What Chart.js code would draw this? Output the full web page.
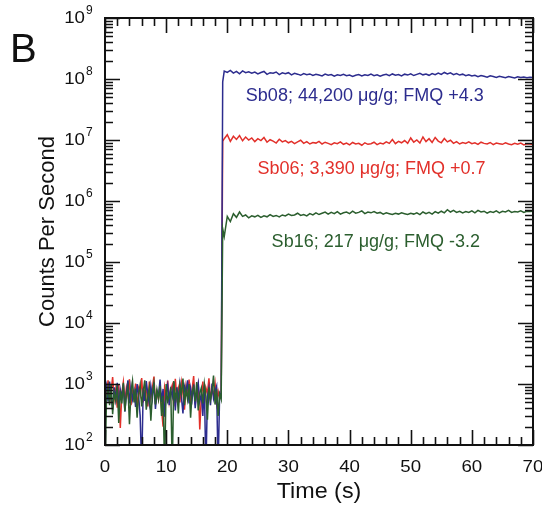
<!DOCTYPE html>
<html>
<head>
<meta charset="utf-8">
<script src="https://cdn.jsdelivr.net/npm/chart.js@4.4.0/dist/chart.umd.min.js"></script>
<style>
  body { margin: 0; background: #fff; }
  canvas { display: block; }
</style>
</head>
<body>
<canvas id="cpsChart" width="542" height="508"></canvas>
<script>
// Tiempos (s): fondo cada 0.25 s, señal cada 0.5 s
const backgroundTimes = [0,0.25,0.5,0.75,1,1.25,1.5,1.75,2,2.25,2.5,2.75,3,3.25,3.5,3.75,4,4.25,4.5,4.75,
  5,5.25,5.5,5.75,6,6.25,6.5,6.75,7,7.25,7.5,7.75,8,8.25,8.5,8.75,9,9.25,9.5,9.75,
  10,10.25,10.5,10.75,11,11.25,11.5,11.75,12,12.25,12.5,12.75,13,13.25,13.5,13.75,14,14.25,14.5,14.75,
  15,15.25,15.5,15.75,16,16.25,16.5,16.75,17,17.25,17.5,17.75,18,18.25,18.5,18.75,19];
const signalTimes = [19.25,19.5,20,20.5,21,21.5,22,22.5,23,23.5,24,24.5,25,25.5,26,26.5,27,27.5,28,28.5,29,29.5,
  30,30.5,31,31.5,32,32.5,33,33.5,34,34.5,35,35.5,36,36.5,37,37.5,38,38.5,39,39.5,
  40,40.5,41,41.5,42,42.5,43,43.5,44,44.5,45,45.5,46,46.5,47,47.5,48,48.5,49,49.5,
  50,50.5,51,51.5,52,52.5,53,53.5,54,54.5,55,55.5,56,56.5,57,57.5,58,58.5,59,59.5,
  60,60.5,61,61.5,62,62.5,63,63.5,64,64.5,65,65.5,66,66.5,67,67.5,68,68.5,69,69.5,70];

// Sb08 (azul)
const sb08Background = [700,950,520,1100,640,380,880,560,1050,430,
  820,610,990,350,720,1150,480,900,560,760,
  420,1000,640,300,40,850,530,1120,690,470,
  920,580,1060,390,760,640,1180,510,830,290,
  700,960,450,800,620,1080,370,880,540,1010,
  600,330,910,720,1150,480,850,560,980,400,
  760,1040,520,680,300,940,40,610,870,450,
  1020,580,760,920,40,700,620];
const sb08Signal = [0.9e8,
  1.35e8,1.28e8,1.38e8,1.25e8,1.33e8,1.22e8,1.36e8,1.27e8,1.31e8,1.24e8,
  1.30e8,1.21e8,1.28e8,1.33e8,1.19e8,1.27e8,1.24e8,1.30e8,1.18e8,1.26e8,
  1.22e8,1.27e8,1.17e8,1.24e8,1.20e8,1.15e8,1.23e8,1.18e8,1.21e8,1.14e8,
  1.19e8,1.16e8,1.12e8,1.20e8,1.15e8,1.18e8,1.11e8,1.17e8,1.14e8,1.19e8,
  1.13e8,1.16e8,1.10e8,1.15e8,1.18e8,1.12e8,1.17e8,1.14e8,1.20e8,1.13e8,
  1.17e8,1.11e8,1.16e8,1.19e8,1.13e8,1.21e8,1.15e8,1.18e8,1.12e8,1.20e8,
  1.16e8,1.22e8,1.14e8,1.19e8,1.24e8,1.17e8,1.21e8,1.15e8,1.23e8,1.18e8,
  1.25e8,1.19e8,1.28e8,1.21e8,1.26e8,1.18e8,1.23e8,1.16e8,1.20e8,1.13e8,
  1.17e8,1.12e8,1.15e8,1.09e8,1.14e8,1.11e8,1.07e8,1.13e8,1.10e8,1.06e8,
  1.11e8,1.08e8,1.05e8,1.10e8,1.07e8,1.04e8,1.09e8,1.06e8,1.08e8,1.05e8,
  1.07e8,1.06e8];

// Sb06 (rojo)
const sb06Background = [900,620,1150,480,760,1300,560,820,410,980,
  190,700,1080,530,870,640,1200,450,760,590,
  1020,380,840,660,1250,500,780,940,430,1100,
  600,860,1320,470,720,560,1010,390,200,880,
  650,1140,520,790,960,430,1220,600,840,500,
  1060,700,380,920,640,1180,540,820,1350,460,
  760,990,180,620,1100,480,870,700,1240,560,
  820,640,1020,490,760,580,700];
const sb06Signal = [0.95e7,
  1.05e7,1.22e7,0.95e7,1.15e7,1.02e7,1.18e7,0.97e7,1.12e7,1.00e7,1.08e7,
  0.94e7,1.05e7,0.98e7,1.10e7,0.92e7,1.01e7,0.96e7,0.89e7,1.03e7,0.93e7,
  0.98e7,0.90e7,0.95e7,0.87e7,0.93e7,0.99e7,0.88e7,0.94e7,0.86e7,0.91e7,
  0.89e7,0.95e7,0.86e7,0.92e7,0.88e7,0.84e7,0.90e7,0.87e7,0.93e7,0.85e7,
  0.89e7,0.83e7,0.91e7,0.86e7,0.88e7,0.82e7,0.90e7,0.85e7,0.87e7,0.92e7,
  0.84e7,0.89e7,0.86e7,0.93e7,0.88e7,1.02e7,0.87e7,0.95e7,0.90e7,0.98e7,
  0.88e7,1.08e7,0.92e7,1.00e7,0.89e7,1.12e7,0.94e7,1.05e7,0.91e7,1.10e7,
  0.96e7,0.90e7,1.06e7,0.93e7,0.99e7,0.88e7,0.94e7,0.86e7,0.91e7,0.88e7,
  0.93e7,0.87e7,0.90e7,0.85e7,0.92e7,0.88e7,0.86e7,0.91e7,0.84e7,0.89e7,
  0.87e7,0.85e7,0.90e7,0.86e7,0.84e7,0.88e7,0.85e7,0.89e7,0.83e7,0.87e7,
  0.86e7,0.84e7];

// Sb16 (verde)
const sb16Background = [40,600,880,450,1000,320,720,540,940,230,
  780,480,1050,360,660,900,220,740,1120,500,
  840,280,690,970,430,760,1150,380,620,880,
  250,700,1040,460,800,560,930,300,640,40,
  1000,520,620,880,40,1120,580,760,330,960,
  690,1230,450,820,560,1000,280,740,900,520,
  1080,370,700,860,480,1010,640,260,880,560,
  760,1380,460,820,300,680,560];
const sb16Signal = [3.5e5,
  2.6e5,5.6e5,4.6e5,6.2e5,5.4e5,6.6e5,5.6e5,5.9e5,5.3e5,5.7e5,
  5.5e5,5.8e5,5.4e5,5.7e5,5.5e5,6.0e5,5.6e5,5.8e5,5.5e5,5.9e5,
  5.7e5,6.1e5,5.8e5,5.9e5,6.3e5,5.8e5,6.0e5,5.7e5,6.2e5,5.9e5,
  6.4e5,6.0e5,6.3e5,6.6e5,6.1e5,6.5e5,6.2e5,6.7e5,6.1e5,6.4e5,
  6.6e5,6.2e5,6.8e5,6.3e5,6.5e5,6.9e5,6.2e5,6.6e5,6.4e5,6.7e5,
  6.3e5,6.5e5,6.1e5,6.4e5,6.2e5,6.0e5,6.3e5,6.1e5,6.4e5,6.2e5,
  6.0e5,6.3e5,6.1e5,6.4e5,6.0e5,6.6e5,6.2e5,6.5e5,6.1e5,6.7e5,
  6.3e5,6.8e5,6.4e5,7.2e5,6.6e5,7.0e5,6.5e5,6.8e5,6.4e5,6.7e5,
  6.5e5,6.9e5,6.4e5,7.0e5,6.6e5,6.8e5,6.3e5,6.7e5,6.5e5,6.9e5,
  6.4e5,6.8e5,6.6e5,7.0e5,6.5e5,6.7e5,6.6e5,6.9e5,6.5e5,6.8e5,
  6.7e5,6.8e5];

// Etiquetas de ejes
const xTickLabels = [0, 10, 20, 30, 40, 50, 60, 70];
const yTickExponents = [2, 3, 4, 5, 6, 7, 8, 9];

// Textos dentro del gráfico
const seriesLabels = ['Sb08; 44,200 \u03bcg/g; FMQ +4.3', 'Sb06; 3,390 \u03bcg/g; FMQ +0.7', 'Sb16; 217 \u03bcg/g; FMQ -3.2'];

const BLUE = '#2c2c8e';
const RED = '#e2302a';
const GREEN = '#2b5e2e';
const FONT = '"Liberation Sans", Arial, sans-serif';

function toPoints(times, counts) {
    return times.map((t, i) => ({ x: t, y: counts[i] }));
}

const allTimes = backgroundTimes.concat(signalTimes);

// texto un poco ensanchado, como en la figura original
function wideText(ctx, text, px, py, sx) {
    ctx.save();
    ctx.translate(px, py);
    ctx.scale(sx, 1);
    ctx.fillText(text, 0, 0);
    ctx.restore();
}

// Marco, marcas hacia adentro y textos
const framePlugin = {
    id: 'framePlugin',
    afterDatasetsDraw(chart) {
        const { ctx, chartArea: a, scales: { x, y } } = chart;
        ctx.save();

        // ticks
        ctx.strokeStyle = '#111';
        ctx.lineWidth = 1.6;
        ctx.beginPath();
        for (let t = 0; t <= 70; t += 2) {
            let px = Math.round(x.getPixelForValue(t)) + 0.5;
            let len = (t % 10 === 0) ? 15 : 8;
            ctx.moveTo(px, a.bottom); ctx.lineTo(px, a.bottom - len);
            ctx.moveTo(px, a.top); ctx.lineTo(px, a.top + len);
        }
        for (let e = 2; e <= 9; e++) {
            for (let m = 1; m <= 9; m++) {
                if (e === 9 && m > 1) break;
                let py = Math.round(y.getPixelForValue(m * Math.pow(10, e))) + 0.5;
                let len = (m === 1) ? 15 : 8;
                ctx.moveTo(a.left, py); ctx.lineTo(a.left + len, py);
                ctx.moveTo(a.right, py); ctx.lineTo(a.right - len, py);
            }
        }
        ctx.stroke();

        // marco
        ctx.lineWidth = 2;
        ctx.strokeRect(a.left, a.top, a.right - a.left, a.bottom - a.top);

        // etiquetas eje x
        ctx.fillStyle = '#111';
        ctx.font = '17px ' + FONT;
        ctx.textAlign = 'center';
        ctx.textBaseline = 'middle';
        for (let v of xTickLabels) {
            wideText(ctx, String(v), x.getPixelForValue(v), a.bottom + 22, 1.1);
        }

        // etiquetas eje y (10 con exponente)
        for (let e of yTickExponents) {
            let py = y.getPixelForValue(Math.pow(10, e));
            ctx.font = '17px ' + FONT;
            ctx.textAlign = 'right';
            wideText(ctx, '10', a.left - 20, py, 1.1);
            ctx.font = '12px ' + FONT;
            ctx.textAlign = 'left';
            ctx.fillText(String(e), a.left - 19, py - 7);
        }

        // titulos
        ctx.font = '22px ' + FONT;
        ctx.textAlign = 'center';
        wideText(ctx, 'Time (s)', (a.left + a.right) / 2, a.bottom + 47, 1.06);
        ctx.save();
        ctx.translate(48, (a.top + a.bottom) / 2);
        ctx.rotate(-Math.PI / 2);
        ctx.fillText('Counts Per Second', 0, 0);
        ctx.restore();

        // letra del panel
        ctx.font = '40px ' + FONT;
        ctx.textAlign = 'left';
        ctx.textBaseline = 'alphabetic';
        ctx.fillText('B', 10, 62);

        // nombres de las series
        ctx.font = '18px ' + FONT;
        ctx.textAlign = 'center';
        ctx.textBaseline = 'middle';
        ctx.fillStyle = BLUE;
        ctx.fillText(seriesLabels[0], x.getPixelForValue(42.5), y.getPixelForValue(5.2e7));
        ctx.fillStyle = RED;
        ctx.fillText(seriesLabels[1], x.getPixelForValue(43.6), y.getPixelForValue(3.4e6));
        ctx.fillStyle = GREEN;
        ctx.fillText(seriesLabels[2], x.getPixelForValue(44.3), y.getPixelForValue(2.1e5));

        ctx.restore();
    }
};

function generateChart() {
    let ctx = document.getElementById('cpsChart').getContext('2d');
    new Chart(ctx, {
        type: 'line',
        data: {
            datasets: [
                {
                    label: 'Sb16',
                    data: toPoints(allTimes, sb16Background.concat(sb16Signal)),
                    borderColor: GREEN,
                    borderWidth: 1.5,
                    pointRadius: 0,
                    tension: 0
                },
                {
                    label: 'Sb08',
                    data: toPoints(allTimes, sb08Background.concat(sb08Signal)),
                    borderColor: BLUE,
                    borderWidth: 1.5,
                    pointRadius: 0,
                    tension: 0
                },
                {
                    label: 'Sb06',
                    data: toPoints(allTimes, sb06Background.concat(sb06Signal)),
                    borderColor: RED,
                    borderWidth: 1.5,
                    pointRadius: 0,
                    tension: 0
                }
            ]
        },
        options: {
            responsive: false,
            animation: false,
            devicePixelRatio: 1,
            layout: { padding: { left: 105, right: 9, top: 18, bottom: 63 } },
            plugins: { legend: { display: false }, tooltip: { enabled: false } },
            scales: {
                x: { type: 'linear', min: 0, max: 70, display: false },
                y: { type: 'logarithmic', min: 100, max: 1e9, display: false }
            }
        },
        plugins: [framePlugin]
    });
}

window.addEventListener('load', function() {
    generateChart();
});
</script>
</body>
</html>
